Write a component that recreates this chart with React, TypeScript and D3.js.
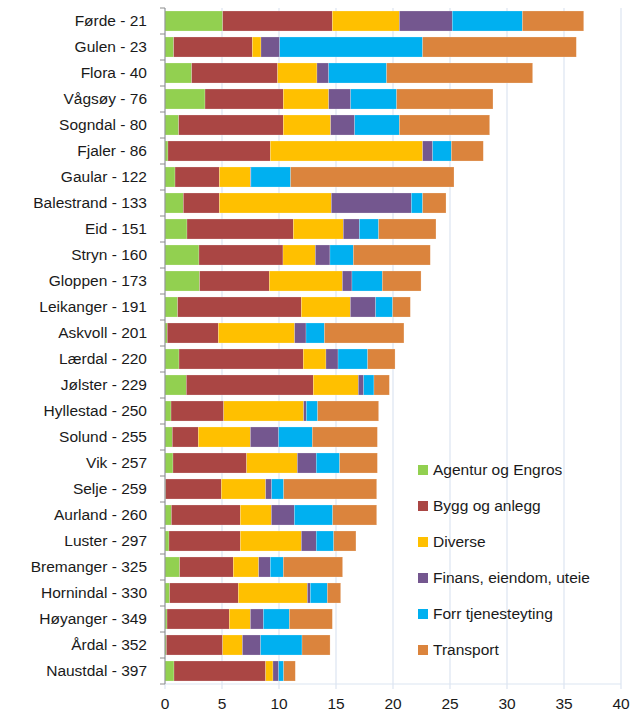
import React from 'react';
import * as d3 from 'd3';

const categories = [
  'Førde - 21', 'Gulen - 23', 'Flora - 40', 'Vågsøy - 76', 'Sogndal - 80', 'Fjaler - 86',
  'Gaular - 122', 'Balestrand - 133', 'Eid - 151', 'Stryn - 160', 'Gloppen - 173',
  'Leikanger - 191', 'Askvoll - 201', 'Lærdal - 220', 'Jølster - 229', 'Hyllestad - 250',
  'Solund - 255', 'Vik - 257', 'Selje - 259', 'Aurland - 260', 'Luster - 297',
  'Bremanger - 325', 'Hornindal - 330', 'Høyanger - 349', 'Årdal - 352', 'Naustdal - 397',
];

const seriesNames = [
  'Agentur og Engros', 'Bygg og anlegg', 'Diverse',
  'Finans, eiendom, uteie', 'Forr tjenesteyting', 'Transport',
];

const agentur = [5.06, 0.76, 2.34, 3.51, 1.2, 0.26, 0.88, 1.61, 1.93, 2.98, 3.04, 1.11, 0.2, 1.23, 1.87, 0.53, 0.64, 0.7, 0.05, 0.56, 0.35, 1.29, 0.41, 0.18, 0.12, 0.79];
const bygg = [9.62, 6.9, 7.54, 6.87, 9.18, 8.98, 3.89, 3.16, 9.33, 7.37, 6.11, 10.85, 4.48, 10.9, 11.14, 4.62, 2.28, 6.46, 4.89, 6.05, 6.26, 4.7, 6.02, 5.46, 4.94, 8.04];
const diverse = [5.88, 0.76, 3.45, 3.98, 4.15, 13.36, 2.72, 9.82, 4.38, 2.84, 6.41, 4.3, 6.69, 1.99, 3.95, 7.01, 4.57, 4.45, 3.89, 2.72, 5.35, 2.23, 6.06, 1.85, 1.73, 0.64];
const finans = [4.64, 1.64, 1.03, 1.93, 2.11, 0.88, 0.05, 7.02, 1.41, 1.28, 0.84, 2.22, 1.0, 1.06, 0.47, 0.24, 2.48, 1.66, 0.53, 2.02, 1.31, 1.02, 0.26, 1.14, 1.6, 0.5];
const forr = [6.15, 12.54, 5.08, 4.03, 3.92, 1.64, 3.48, 0.99, 1.69, 2.05, 2.66, 1.49, 1.61, 2.6, 0.9, 0.99, 2.95, 2.05, 1.05, 3.36, 1.53, 1.14, 1.49, 2.28, 3.63, 0.44];
const transport = [5.38, 13.48, 12.81, 8.45, 7.92, 2.8, 14.33, 2.05, 5.03, 6.75, 3.4, 1.55, 6.98, 2.4, 1.35, 5.35, 5.71, 3.31, 8.16, 3.86, 1.95, 5.2, 1.17, 3.77, 2.46, 1.02];

const xTicks = [0, 5, 10, 15, 20, 25, 30, 35, 40];
const colors = ['#92d050', '#aa4644', '#ffc000', '#74578f', '#00b0f0', '#db843d'];

const W = 632;
const H = 713;
const margin = { top: 8, right: 11, bottom: 29, left: 165 };
const font = "'Liberation Sans', Arial, sans-serif";
const fs = 15.5;

export default function App() {
  const rows = categories.map((c, i) => ({
    cat: c,
    s0: agentur[i], s1: bygg[i], s2: diverse[i], s3: finans[i], s4: forr[i], s5: transport[i],
  }));
  const keys = ['s0', 's1', 's2', 's3', 's4', 's5'];
  const stacked = d3.stack<any>().keys(keys)(rows);

  const x = d3.scaleLinear().domain([0, 40]).range([margin.left, W - margin.right]);
  const y = d3.scaleBand().domain(categories).range([margin.top, H - margin.bottom]).paddingInner(0.23).paddingOuter(0.115);
  const step = y.step();
  const y0 = margin.top;
  const y1 = H - margin.bottom;

  return (
    <div style={{ position: 'absolute', left: 0, top: 0 }}>
      <svg width={W} height={H} style={{ display: 'block', background: '#fff' }}>
        <g>
          {xTicks.map(t => (
            <line key={t} x1={x(t)} x2={x(t)} y1={y0} y2={y1 + 5} stroke="#dce5f1" strokeWidth={1.2} />
          ))}
          <line x1={x(0)} x2={x(40)} y1={y1} y2={y1} stroke="#dce5f1" strokeWidth={1.2} />
        </g>
        <g>
          {stacked.map((layer, si) => (
            <g key={si} fill={colors[si]}>
              {layer.map((d, i) => (
                <rect
                  key={i}
                  x={x(d[0])}
                  width={Math.max(0, x(d[1]) - x(d[0]))}
                  y={y(categories[i])}
                  height={y.bandwidth()}
                  stroke="#ffffff"
                  strokeOpacity={0.35}
                  strokeWidth={0.6}
                />
              ))}
            </g>
          ))}
        </g>
        <g>
          <line x1={x(0)} x2={x(0)} y1={y0} y2={y1} stroke="#8c8c8c" strokeWidth={1} />
          {categories.map((c, i) => (
            <line key={i} x1={x(0) - 5} x2={x(0)} y1={y0 + i * step} y2={y0 + i * step} stroke="#8c8c8c" />
          ))}
          <line x1={x(0) - 5} x2={x(0)} y1={y1} y2={y1} stroke="#8c8c8c" />
          {categories.map(c => (
            <text
              key={c}
              x={147}
              y={(y(c) as number) + y.bandwidth() / 2}
              dy="0.35em"
              textAnchor="end"
              fontFamily={font}
              fontSize={fs}
              fill="#1a1a1a"
            >
              {c}
            </text>
          ))}
        </g>
        <g>
          {xTicks.map(t => (
            <text key={t} x={x(t)} y={709} textAnchor="middle" fontFamily={font} fontSize={fs} fill="#1a1a1a">
              {t}
            </text>
          ))}
        </g>
        <g>
          {seriesNames.map((n, i) => (
            <g key={n} transform={`translate(418,${470 + i * 36})`}>
              <rect x={0} y={-5} width={10} height={10} fill={colors[i]} />
              <text x={15} y={0} dy="0.35em" fontFamily={font} fontSize={fs} fill="#1a1a1a">{n}</text>
            </g>
          ))}
        </g>
      </svg>
    </div>
  );
}
